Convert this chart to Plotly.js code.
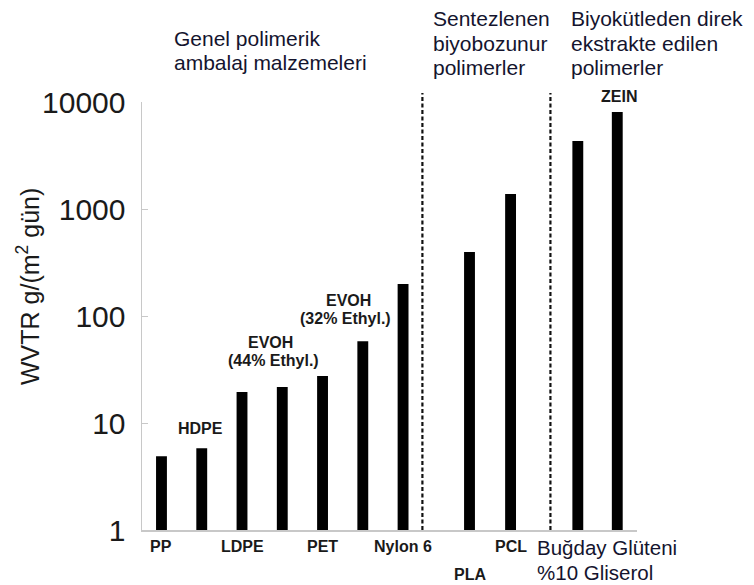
<!DOCTYPE html>
<html>
<head>
<meta charset="utf-8">
<script src="https://cdn.plot.ly/plotly-3.0.1.min.js"></script>
<style>html,body{margin:0;padding:0;background:#fff;}#chart{width:754px;height:585px;}</style>
</head>
<body>
<div id="chart"></div>
<script>
// ---- data ----
const categories = ["PP", "HDPE", "LDPE", "EVOH (44% Ethyl.)", "PET", "EVOH (32% Ethyl.)", "Nylon 6", "PLA", "PCL", "Buğday Glüteni %10 Gliserol", "ZEIN"];
const wvtr = [4.9, 5.8, 19.5, 21.7, 27.5, 58, 199, 396, 1380, 4320, 8070];
const yTickVals = [1, 10, 100, 1000, 10000];
const yTickText = ["1", "10", "100", "1000", "10000"];
const groupTitles = [
  ["Genel polimerik", "ambalaj malzemeleri"],
  ["Sentezlenen", "biyobozunur", "polimerler"],
  ["Biyokütleden direk", "ekstrakte edilen", "polimerler"]
];
const yTitle = "WVTR g/(m<sup>2</sup> gün)";

// ---- layout helpers (positions, not data) ----
const xpos = [0, 1, 2, 3, 4, 5, 6, 7.65, 8.67, 10.34, 11.32];
const dividers = [6.48, 9.66];
const plotTop = 102, plotBottom = 530, plotLeft = 142, plotRight = 637;
const py = p => (plotBottom - p) / (plotBottom - plotTop);
const px = p => (p - plotLeft) / (plotRight - plotLeft);

const FONT = "Liberation Sans, Arial, sans-serif";
const boldLbl = {family: FONT, size: 16, color: "#1a1a1a", weight: "bold"};
const bigLbl = {family: FONT, size: 20.5, color: "#14142e"};
const grpLbl = {family: FONT, size: 21, color: "#14142e"};

function ann(text, x, y, font, extra) {
  return Object.assign({text: text, x: x, y: y, xref: "x", yref: "paper", showarrow: false,
    xanchor: "center", yanchor: "middle", font: font}, extra || {});
}

const annotations = [
  ann("<b>" + categories[0] + "</b>", xpos[0], py(546), boldLbl),
  ann("<b>" + categories[1] + "</b>", xpos[1] - 0.03, py(428), boldLbl),
  ann("<b>" + categories[2] + "</b>", xpos[2], py(546), boldLbl),
  ann("<b>EVOH</b>", xpos[3] - 0.3, py(342), boldLbl),
  ann("<b>(44% Ethyl.)</b>", xpos[3] - 0.22, py(360), boldLbl),
  ann("<b>" + categories[4] + "</b>", xpos[4], py(546), boldLbl),
  ann("<b>EVOH</b>", xpos[5] - 0.35, py(300), boldLbl),
  ann("<b>(32% Ethyl.)</b>", xpos[5] - 0.42, py(318), boldLbl),
  ann("<b>" + categories[6] + "</b>", xpos[6], py(546), boldLbl),
  ann("<b>" + categories[7] + "</b>", xpos[7], py(574), boldLbl),
  ann("<b>" + categories[8] + "</b>", xpos[8], py(546), boldLbl),
  ann("Buğday Glüteni", (535 - plotLeft) / 40.25 - 0.484, py(547), bigLbl, {xanchor: "left"}),
  ann("%10 Gliserol", (535 - plotLeft) / 40.25 - 0.484, py(572), bigLbl, {xanchor: "left"}),
  ann("<b>" + categories[10] + "</b>", xpos[10] + 0.05, py(96), boldLbl),
  {text: yTitle, textangle: -90, xref: "paper", yref: "paper", x: px(28), y: py(287), xanchor: "center", yanchor: "middle",
   showarrow: false, font: {family: FONT, size: 25, color: "#1a1a1a"}}
];

const groupX = [172, 431, 569];
const groupY0 = [38, 18, 18];
groupTitles.forEach((lines, g) => {
  lines.forEach((line, i) => {
    annotations.push({text: line, xref: "paper", yref: "paper", x: px(groupX[g]), y: py(groupY0[g] + 25 * i),
      xanchor: "left", yanchor: "middle", align: "left", showarrow: false, font: grpLbl});
  });
});

const shapes = dividers.map(d => ({
  type: "line", xref: "x", yref: "paper", x0: d, x1: d, y0: 0, y1: py(93),
  line: {color: "#111", width: 2.2, dash: "4px,2.5px"}
}));

const trace = {
  type: "bar",
  x: xpos,
  y: wvtr,
  text: categories,
  hoverinfo: "text+y",
  width: 0.27,
  marker: {color: "#000", line: {width: 0}},
  textposition: "none"
};

const layout = {
  width: 754, height: 585,
  margin: {l: plotLeft, r: 754 - plotRight, t: plotTop, b: 585 - plotBottom, pad: 0},
  paper_bgcolor: "#fff", plot_bgcolor: "#fff",
  showlegend: false,
  xaxis: {
    range: [-0.484, 11.81], showticklabels: false, ticks: "", showgrid: false, zeroline: false,
    showline: true, linecolor: "#c8c8c8", linewidth: 1.5
  },
  yaxis: {
    type: "log", range: [0, 4], tickmode: "array", tickvals: yTickVals, ticktext: yTickText,
    ticks: "inside", ticklen: 6, tickcolor: "#c8c8c8", tickwidth: 1,
    ticklabelstandoff: 9,
    tickfont: {family: FONT, size: 30, color: "#1a1a1a"},
    showgrid: false, zeroline: false, showline: true, linecolor: "#c8c8c8", linewidth: 1.5
  },
  annotations: annotations,
  shapes: shapes
};

Plotly.newPlot("chart", [trace], layout, {displayModeBar: false, staticPlot: true});
</script>
</body>
</html>
